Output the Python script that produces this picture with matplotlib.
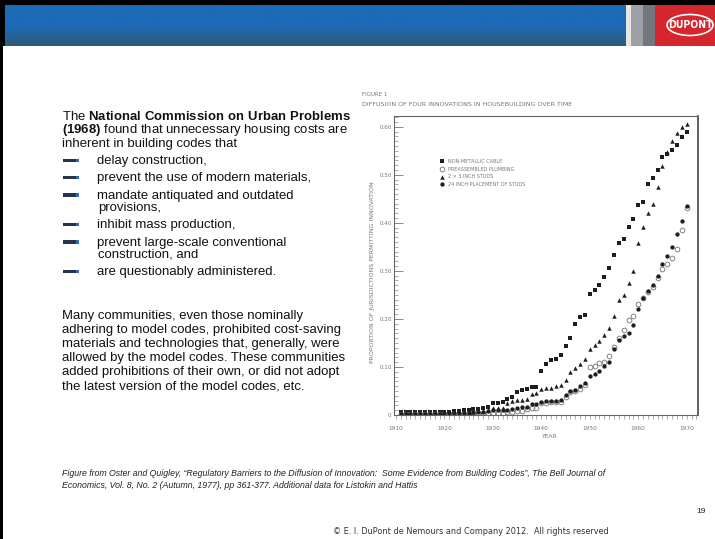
import numpy as np
import matplotlib.pyplot as plt
import matplotlib.ticker as mticker
from matplotlib.patches import Rectangle, Ellipse
from matplotlib.lines import Line2D

plt.rcParams['mathtext.fontset'] = 'custom'
plt.rcParams['mathtext.rm'] = 'Liberation Sans'
plt.rcParams['mathtext.bf'] = 'Liberation Sans:bold'

# proportion of jurisdictions permitting each innovation, 1911-1970
years = np.arange(1911, 1971)

cable = [0.006] * 9 + [
    0.007, 0.007, 0.008, 0.009, 0.010, 0.011, 0.012, 0.013, 0.015, 0.017,
    0.026, 0.026, 0.028, 0.034, 0.037, 0.047, 0.051, 0.055, 0.058, 0.058,
    0.092, 0.106, 0.114, 0.116, 0.124, 0.143, 0.161, 0.189, 0.205, 0.208,
    0.252, 0.260, 0.270, 0.287, 0.306, 0.333, 0.357, 0.366, 0.391, 0.408,
    0.438, 0.444, 0.481, 0.493, 0.511, 0.536, 0.543, 0.551, 0.563, 0.579,
    0.589]

plumbing = [0.002] * 9 + [
    0.002, 0.002, 0.003, 0.003, 0.003, 0.003, 0.004, 0.004, 0.004, 0.005,
    0.005, 0.005, 0.005, 0.006, 0.007, 0.008, 0.009, 0.012, 0.014, 0.014,
    0.024, 0.026, 0.027, 0.027, 0.028, 0.038, 0.047, 0.050, 0.055, 0.063,
    0.100, 0.102, 0.108, 0.111, 0.123, 0.141, 0.160, 0.177, 0.197, 0.207,
    0.232, 0.243, 0.257, 0.267, 0.286, 0.304, 0.314, 0.326, 0.345, 0.385,
    0.431]

studs_2x3 = [0.004] * 9 + [
    0.005, 0.005, 0.005, 0.005, 0.005, 0.006, 0.007, 0.008, 0.009, 0.010,
    0.014, 0.014, 0.015, 0.026, 0.030, 0.031, 0.032, 0.034, 0.044, 0.045,
    0.054, 0.057, 0.057, 0.061, 0.062, 0.073, 0.089, 0.098, 0.106, 0.116,
    0.138, 0.145, 0.153, 0.167, 0.182, 0.207, 0.240, 0.249, 0.275, 0.300,
    0.357, 0.392, 0.420, 0.440, 0.474, 0.519, 0.547, 0.571, 0.587, 0.600,
    0.606]

studs_24in = [0.003] * 9 + [
    0.004, 0.004, 0.004, 0.004, 0.004, 0.005, 0.006, 0.006, 0.007, 0.008,
    0.010, 0.010, 0.011, 0.011, 0.013, 0.015, 0.016, 0.017, 0.022, 0.023,
    0.027, 0.029, 0.030, 0.030, 0.031, 0.041, 0.050, 0.052, 0.061, 0.067,
    0.082, 0.086, 0.092, 0.103, 0.110, 0.137, 0.157, 0.164, 0.171, 0.187,
    0.221, 0.243, 0.258, 0.270, 0.289, 0.315, 0.331, 0.349, 0.376, 0.404,
    0.434]

series_labels = ['NON-METALLIC CABLE', 'PREASSEMBLED PLUMBING',
                 '2 × 3 INCH STUDS', '24 INCH PLACEMENT OF STUDS']
x_ticks = [1910, 1920, 1930, 1940, 1950, 1960, 1970]
y_ticks = [0, 0.1, 0.2, 0.3, 0.4, 0.5, 0.6]
y_tick_labels = ['0', '0.10', '0.20', '0.30', '0.40', '0.50', '0.60']

intro_lines = [
    'The $\\bf{National\\ Commission\\ on\\ Urban\\ Problems}$',
    '$\\bf{(1968)}$ found that unnecessary housing costs are',
    'inherent in building codes that',
]
bullets = [
    ['delay construction,'],
    ['prevent the use of modern materials,'],
    ['mandate antiquated and outdated', 'provisions,'],
    ['inhibit mass production,'],
    ['prevent large-scale conventional', 'construction, and'],
    ['are questionably administered.'],
]
para_lines = [
    'Many communities, even those nominally',
    'adhering to model codes, prohibited cost-saving',
    'materials and technologies that, generally, were',
    'allowed by the model codes. These communities',
    'added prohibitions of their own, or did not adopt',
    'the latest version of the model codes, etc.',
]
source_lines = [
    'Figure from Oster and Quigley, \u201cRegulatory Barriers to the Diffusion of '
    'Innovation:  Some Evidence from Building Codes\u201d, The Bell Journal of',
    'Economics, Vol. 8, No. 2 (Autumn, 1977), pp 361-377. Additional data for '
    'Listokin and Hattis',
]

W, H = 715, 539
fig = plt.figure(figsize=(W / 100, H / 100), dpi=100)

# slide layer in pixel units
bg = fig.add_axes([0, 0, 1, 1])
bg.set_xlim(0, W)
bg.set_ylim(H, 0)
bg.axis('off')

# frame + header bar
bg.add_patch(Rectangle((0, 0), W, 5, color='black', lw=0))
bg.add_patch(Rectangle((0, 0), 3, H, color='black', lw=0))
bg.add_patch(Rectangle((0, 0), 5, 46, color='black', lw=0))
top_c = np.array([0x1b, 0x6b, 0xb7]) / 255
bot_c = np.array([0x30, 0x5a, 0x78]) / 255
t = np.clip((np.linspace(0, 1, 60) - 0.5) / 0.5, 0, 1)[:, None]
grad = (top_c * (1 - t) + bot_c * t)[:, None, :]
bg.imshow(grad, extent=(5, 626, 46, 5), aspect='auto', zorder=1)
bg.add_patch(Rectangle((626, 5), 5, 41, color='#e6e6e6', lw=0, zorder=2))
bg.imshow(np.array([[[0.62, 0.63, 0.65], [0.45, 0.47, 0.50]]]),
          extent=(631, 655, 46, 5), aspect='auto', zorder=2)
bg.add_patch(Rectangle((655, 5), W - 655, 41, color='#d5262e', lw=0, zorder=2))
bg.add_patch(Ellipse((690, 25), 46, 21, fc='none', ec='white', lw=1.2, zorder=3))
bg.text(690, 25.5, 'DUPONT', color='white', fontsize=7.5, fontweight='bold',
        fontstretch='condensed', ha='center', va='center', zorder=4)

body = dict(family='Liberation Sans', fontsize=9.45, color='#111111', va='baseline')

y = 119.5
for line in intro_lines:
    bg.text(62, y, line, **body)
    y += 13.6
y = 164
for item in bullets:
    bg.add_patch(Rectangle((63, y - 5.5), 13, 3.5, color='#23344c', lw=0))
    bg.add_patch(Rectangle((76, y - 5.5), 3, 3.5, color='#2f6cb3', lw=0))
    for i, line in enumerate(item):
        bg.text(97 + i, y, line, **body)
        y += 12.2
    y += 5.2

y = 318.5
for line in para_lines:
    bg.text(62, y, line, **body)
    y += 14.2

for i, line in enumerate(source_lines):
    bg.text(62, 476 + 12 * i, line, family='Liberation Sans', style='italic',
            fontsize=6.35, color='#222222', va='baseline')
bg.text(706, 513, '19', family='Liberation Sans', fontsize=6.0, color='#222222',
        ha='right', va='baseline')
bg.text(333, 533.5, '\u00a9 E. I. DuPont de Nemours and Company 2012.  All rights reserved',
        family='DejaVu Sans', fontsize=5.85, color='#333333', va='baseline')

# scanned figure captions
scan_gray = '#777777'
bg.text(362, 95, 'FIGURE 1', fontsize=4.0, color=scan_gray, va='center')
bg.text(362, 104.5, 'DIFFUSION OF FOUR INNOVATIONS IN HOUSEBUILDING OVER TIME',
        fontsize=4.6, color=scan_gray, va='center')

# the diffusion chart
ax = fig.add_axes([394 / W, 1 - 415 / H, 304.3 / W, 299.3 / H])
ax.set_facecolor('none')
dark = '#1e1e1e'
styles = [
    dict(marker='s', ms=2.7, mfc=dark, mec=dark, mew=0),
    dict(marker='o', ms=3.4, mfc='none', mec='#7a7a7a', mew=0.65),
    dict(marker='^', ms=3.2, mfc=dark, mec=dark, mew=0),
    dict(marker='o', ms=3.1, mfc=dark, mec=dark, mew=0),
]
for vals, st in zip([cable, plumbing, studs_2x3, studs_24in], styles):
    ax.plot(years, vals, ls='none', **st)

ax.set_xlim(1909.6, 1972.4)
ax.set_ylim(0, 0.623)
ax.set_xticks(x_ticks)
ax.set_xticks(np.arange(1910, 1973), minor=True)
ax.set_yticks(y_ticks)
ax.set_yticklabels(y_tick_labels)
ax.yaxis.set_minor_locator(mticker.MultipleLocator(0.01))
ax.tick_params(axis='y', which='major', direction='in', length=6.5, width=0.6,
               pad=1.8, labelsize=4.1, color='#777777', labelcolor=scan_gray)
ax.tick_params(axis='y', which='minor', direction='in', length=3.2, width=0.5,
               color='#8a8a8a')
ax.tick_params(axis='x', which='both', direction='out', length=3.2, width=0.5,
               pad=4.5, labelsize=4.2, color='#8a8a8a', labelcolor=scan_gray)
for side in ['left', 'top', 'bottom']:
    ax.spines[side].set_color('#666666')
    ax.spines[side].set_linewidth(0.8)
ax.spines['right'].set_color('#444444')
ax.spines['right'].set_linewidth(1.2)

ax.set_ylabel('PROPORTION OF JURISDICTIONS PERMITTING INNOVATION',
              fontsize=4.5, color=scan_gray)
ax.yaxis.set_label_coords(-0.064, 0.478)
ax.set_xlabel('YEAR', fontsize=4.3, color=scan_gray)
ax.xaxis.set_label_coords(0.51, -0.063)

handles = [Line2D([], [], ls='none', **st) for st in styles]
leg = ax.legend(handles, series_labels, loc='upper left',
                bbox_to_anchor=(0.151, 0.855), frameon=False, fontsize=3.5,
                handlelength=0.8, handletextpad=0.8, labelspacing=0.55,
                borderpad=0, borderaxespad=0)
for txt in leg.get_texts():
    txt.set_color(scan_gray)

fig.savefig('out.png', dpi=100)
